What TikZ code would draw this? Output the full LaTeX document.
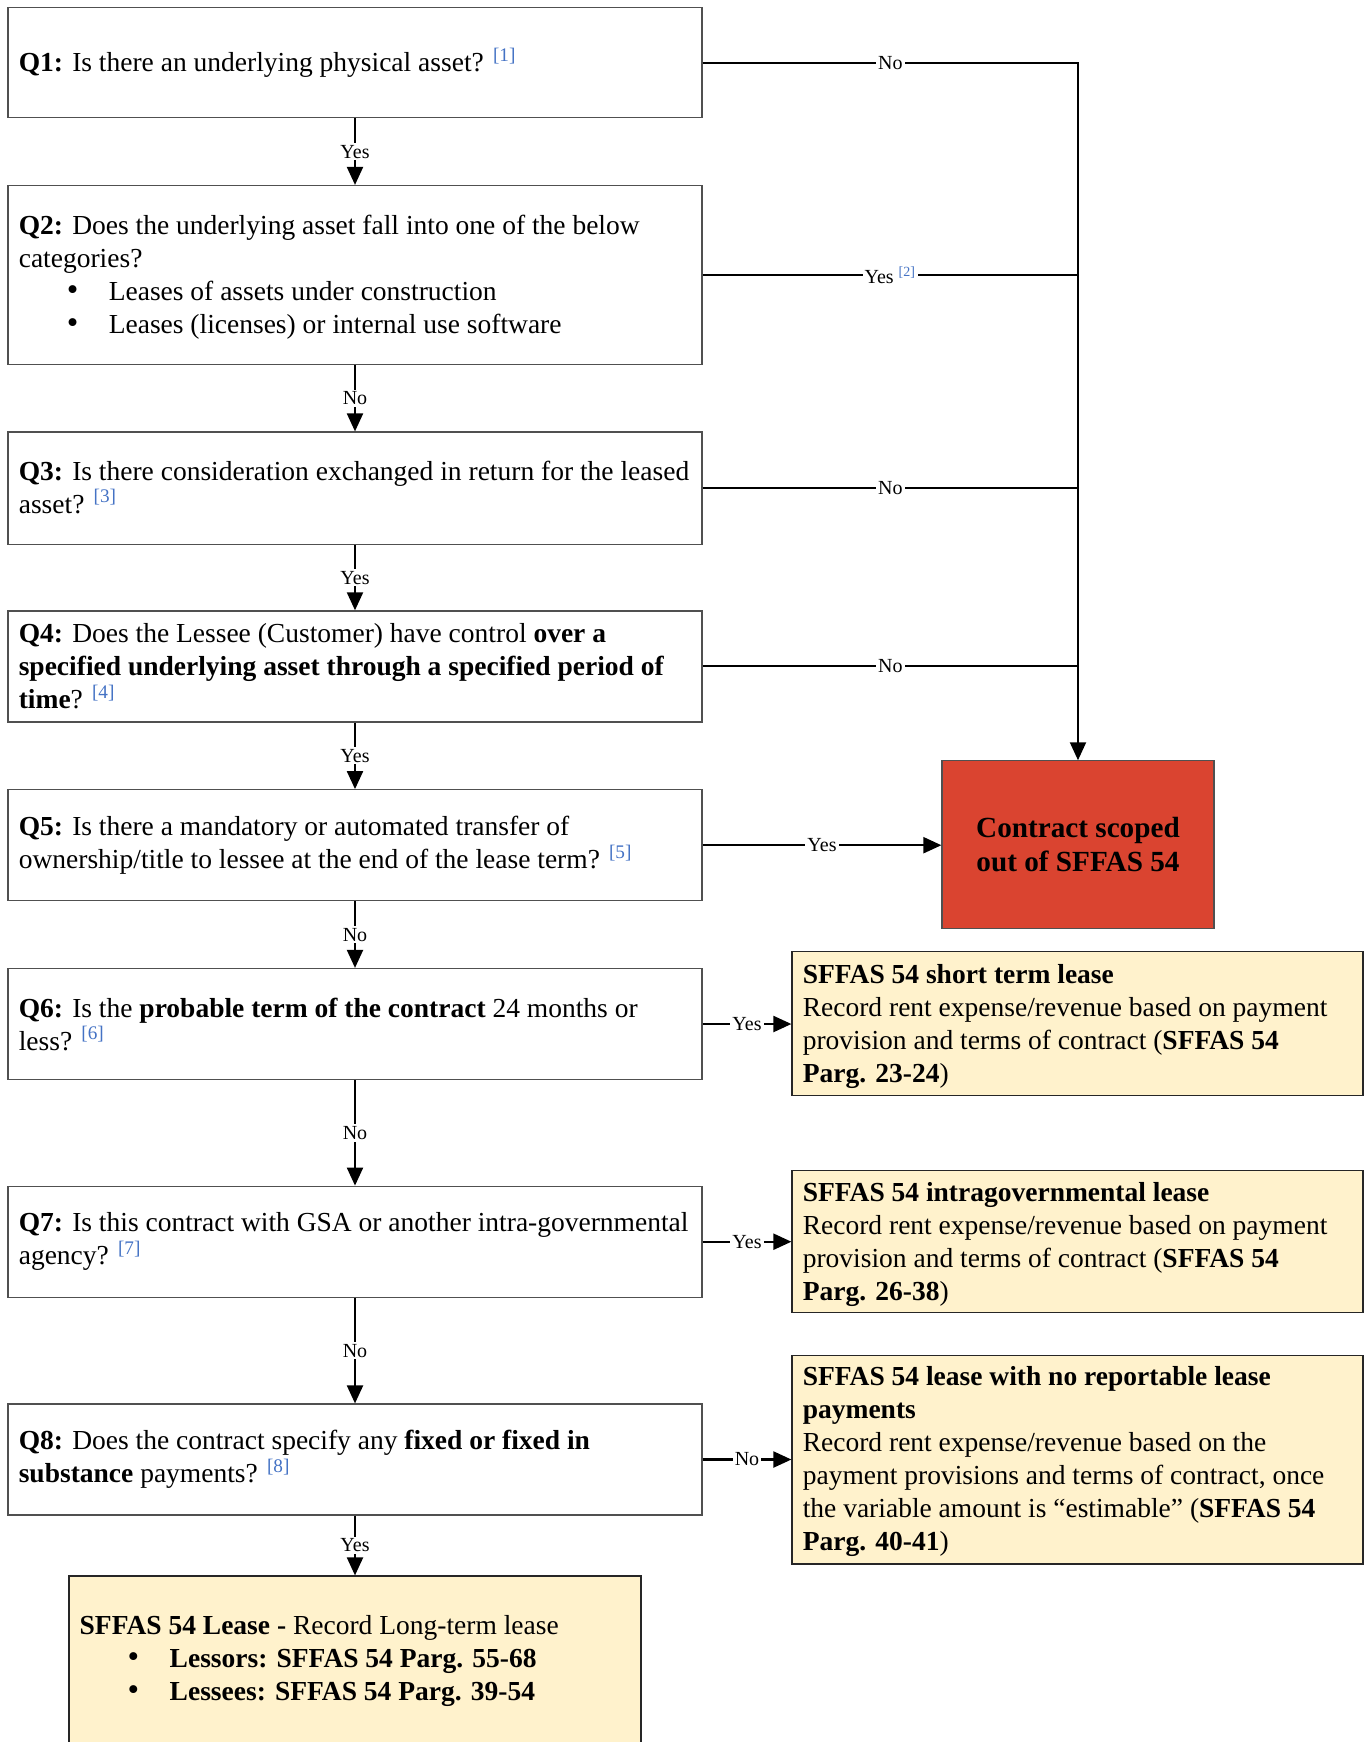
\documentclass[tikz,border=0pt]{standalone}
\usepackage{fontspec}
\setmainfont{Liberation Serif}
\usetikzlibrary{arrows.meta}
\definecolor{fnblue}{HTML}{4472C4}
\definecolor{outred}{HTML}{DA4430}
\definecolor{leasefill}{HTML}{FFF2CC}
\definecolor{boxgray}{HTML}{505050}
\newcommand{\fnref}[1]{\textcolor{fnblue}{\textsuperscript{[#1]}}}
\newcommand{\bul}{\hspace*{24pt}\makebox[21pt][l]{\scalebox{1.2}{\textbullet}}}
\newcommand{\mainfs}{\fontsize{13.75}{16.5}\selectfont}
\newcommand{\labfs}{\fontsize{10}{12}\selectfont}
\newcommand{\bigfs}{\fontsize{14.6}{17.2}\selectfont\bfseries}
\begin{document}
\begin{tikzpicture}[x=0.5pt,y=-0.5pt,
  qbox/.style={draw=boxgray, line width=0.6pt, rectangle, inner sep=0pt, minimum width=347pt},
  rbox/.style={draw=black!85, line width=0.6pt, rectangle, inner sep=0pt, fill=leasefill, minimum width=285.5pt},
  txt/.style={anchor=west, inner sep=0pt, align=left, font=\mainfs},
  conn/.style={line width=1.05pt},
  arr/.style={conn, -{Triangle[length=9pt,width=8pt]}},
  lab/.style={fill=white, inner sep=1pt, font=\labfs}]
\useasboundingbox (0,0) rectangle (1364,1742);
\clip (0,0) rectangle (1364,1742);

% question boxes
\node[qbox, minimum height=55pt]   (q1) at (355,62.8) {};
\node[qbox, minimum height=89.4pt] (q2) at (355,274.9) {};
\node[qbox, minimum height=56.1pt] (q3) at (355,488.1) {};
\node[qbox, minimum height=55.5pt] (q4) at (355,666.4) {};
\node[qbox, minimum height=55.5pt] (q5) at (355,845.2) {};
\node[qbox, minimum height=55.5pt] (q6) at (355,1024) {};
\node[qbox, minimum height=55.5pt] (q7) at (355,1241.7) {};
\node[qbox, minimum height=55.5pt] (q8) at (355,1459.5) {};

\node[txt] (q1t) at ([xshift=5.5pt]q1.west) {\textbf{Q1:} Is there an underlying physical asset? \fnref{1}};
\node[txt] (q2t) at ([xshift=5.5pt,yshift=-1pt]q2.west) {\textbf{Q2:} Does the underlying asset fall into one of the below\\categories?\\\bul Leases of assets under construction\\\bul Leases (licenses) or internal use software};
\node[txt] (q3t) at ([xshift=5.5pt,yshift=0.5pt]q3.west) {\textbf{Q3:} Is there consideration exchanged in return for the leased\\asset? \fnref{3}};
\node[txt] (q4t) at ([xshift=5.5pt]q4.west) {\textbf{Q4:} Does the Lessee (Customer) have control \textbf{over a}\\\textbf{specified underlying asset through a specified period of}\\\textbf{time}? \fnref{4}};
\node[txt] (q5t) at ([xshift=5.5pt]q5.west) {\textbf{Q5:} Is there a mandatory or automated transfer of\\ownership/title to lessee at the end of the lease term? \fnref{5}};
\node[txt] (q6t) at ([xshift=5.5pt]q6.west) {\textbf{Q6:} Is the \textbf{probable term of the contract} 24 months or\\less? \fnref{6}};
\node[txt] (q7t) at ([xshift=5.5pt]q7.west) {\textbf{Q7:} Is this contract with GSA or another intra-governmental\\agency? \fnref{7}};
\node[txt] (q8t) at ([xshift=5.5pt]q8.west) {\textbf{Q8:} Does the contract specify any \textbf{fixed or fixed in}\\\textbf{substance} payments? \fnref{8}};

% final box
\node[rbox, minimum width=286pt, minimum height=85pt] (fin) at (354.9,1661) {};
\node[txt] (fint) at ([xshift=5.5pt]fin.west) {\textbf{SFFAS 54 Lease -} Record Long-term lease\\\bul\textbf{Lessors: SFFAS 54 Parg. 55-68}\\\bul\textbf{Lessees: SFFAS 54 Parg. 39-54}};

% out-of-scope box
\node[draw=boxgray, line width=0.6pt, fill=outred, minimum width=136pt, minimum height=83.85pt, align=center, font=\bigfs] (out) at (1078,844.7) {Contract scoped\\out of SFFAS 54};

% right outcome boxes
\node[rbox, minimum height=71.65pt] (short) at (1077.5,1023.5) {};
\node[rbox, minimum height=71pt]    (intra) at (1077.5,1241.8) {};
\node[rbox, minimum height=104.4pt] (norep) at (1077.5,1459.5) {};

\node[txt] (shortt) at ([xshift=5.5pt,yshift=-1.5pt]short.west) {\textbf{SFFAS 54 short term lease}\\Record rent expense/revenue based on payment\\provision and terms of contract (\textbf{SFFAS 54}\\\textbf{Parg. 23-24})};
\node[txt] (intrat) at ([xshift=5.5pt,yshift=-1.5pt]intra.west) {\textbf{SFFAS 54 intragovernmental lease}\\Record rent expense/revenue based on payment\\provision and terms of contract (\textbf{SFFAS 54}\\\textbf{Parg. 26-38})};
\node[txt] (norept) at ([xshift=5.5pt,yshift=-1pt]norep.west) {\textbf{SFFAS 54 lease with no reportable lease}\\\textbf{payments}\\Record rent expense/revenue based on the\\payment provisions and terms of contract, once\\the variable amount is “estimable” (\textbf{SFFAS 54}\\\textbf{Parg. 40-41})};

% vertical chain
\draw[arr] (q1.south) -- node[lab]{Yes} (q2.north);
\draw[arr] (q2.south) -- node[lab]{No} (q3.north);
\draw[arr] (q3.south) -- node[lab]{Yes} (q4.north);
\draw[arr] (q4.south) -- node[lab]{Yes} (q5.north);
\draw[arr] (q5.south) -- node[lab]{No} (q6.north);
\draw[arr] (q6.south) -- node[lab]{No} (q7.north);
\draw[arr] (q7.south) -- node[lab]{No} (q8.north);
\draw[arr] (q8.south) -- node[lab]{Yes} (q8.south |- fin.north);

% right-hand bus to out of scope
\draw[arr, line join=miter] (q1.east) -- node[lab]{No} (q1.east -| out.north) -- (out.north);
\draw[conn] (q2.east) -- node[lab]{Yes \fnref{2}} (q2.east -| out.north);
\draw[conn] (q3.east) -- node[lab]{No} (q3.east -| out.north);
\draw[conn] (q4.east) -- node[lab]{No} (q4.east -| out.north);
\draw[arr] (q5.east) -- node[lab]{Yes} (q5.east -| out.west);

% outcome arrows
\draw[arr] (q6.east) -- node[lab]{Yes} (q6.east -| short.west);
\draw[arr] (q7.east) -- node[lab]{Yes} (q7.east -| intra.west);
\draw[arr] (q8.east) -- node[lab]{No} (q8.east -| norep.west);
\end{tikzpicture}
\end{document}
